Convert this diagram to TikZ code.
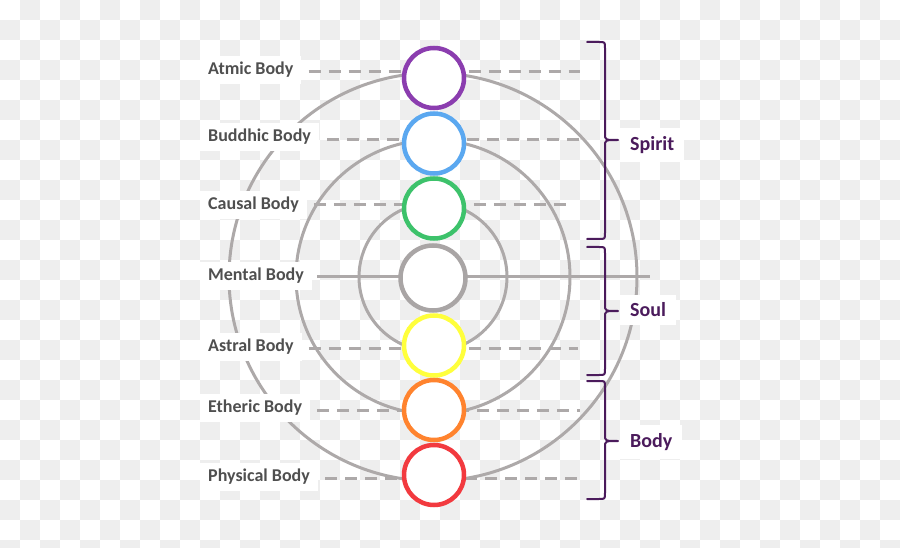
\documentclass[tikz,border=0pt]{standalone}
\usepackage{fontspec}
\setmainfont{Carlito}
\usetikzlibrary{calc}
\definecolor{chk}{HTML}{EEEEEE}
\definecolor{ringgray}{HTML}{ADA9A9}
\definecolor{txtgray}{HTML}{4F4F4F}
\definecolor{deeppurple}{HTML}{4B1B5C}
\definecolor{cpurple}{HTML}{8B3DAF}
\definecolor{cblue}{HTML}{5BA8F0}
\definecolor{cgreen}{HTML}{3DC26B}
\definecolor{cgray}{HTML}{A9A5A5}
\definecolor{cyellow}{HTML}{FFFF3C}
\definecolor{corange}{HTML}{FF832E}
\definecolor{cred}{HTML}{F23A3F}
\newcommand{\drawgroupbrace}[3]{%
  \draw[bracket] (587,#1) -- (599,#1) .. controls (605,#1) .. (605,#1+6)
    -- (605,#2-6) .. controls (605,#2) .. (618,#2)
    .. controls (605,#2) .. (605,#2+6)
    -- (605,#3-6) .. controls (605,#3) .. (599,#3) -- (587,#3);}
\begin{document}
\begin{tikzpicture}[x=1pt,y=-1pt,
  lbl/.style={fill=white, anchor=west, inner xsep=8pt, inner ysep=6pt,
    font=\fontsize{18}{20}\selectfont\bfseries, text=txtgray},
  grp/.style={fill=white, anchor=west, inner xsep=10pt, inner ysep=8pt,
    font=\fontsize{20}{24}\selectfont\bfseries, text=deeppurple},
  body/.style={circle, fill=white, line width=4.5pt, minimum size=60pt, inner sep=0pt},
  orbit/.style={draw=ringgray, line width=3pt},
  dashline/.style={draw=ringgray, line width=3pt, dash pattern=on 12pt off 8pt},
  solidline/.style={draw=ringgray, line width=3pt},
  bracket/.style={draw=deeppurple, line width=2pt, line join=round, line cap=round}
]
\useasboundingbox (0,0) rectangle (900,548);
% transparency checkerboard
\begin{scope}
\clip (0,0) rectangle (900,548);
\fill[white] (0,0) rectangle (900,548);
\foreach \j in {0,...,27} {
  \foreach \i in {0,...,44} {
    \pgfmathtruncatemacro\chkp{mod(\i+\j,2)}
    \ifnum\chkp=1 \fill[chk] (\i*20,\j*20) rectangle ++(20,20); \fi
  }
}
\end{scope}

% concentric orbits
\coordinate (ctr) at (433,277);
\draw[orbit] (ctr) circle[radius=74];
\draw[orbit] (ctr) circle[radius=137];
\draw[orbit] (ctr) circle[radius=204];

% left labels (over the orbits)
\node[lbl] (atmic) at (200,70) {Atmic Body};
\node[lbl] (buddhic) at (200,137) {Buddhic Body};
\node[lbl] (causal) at (200,205) {Causal Body};
\node[lbl] (mental) at (200,276) {Mental Body};
\node[lbl] (astral) at (200,347) {Astral Body};
\node[lbl] (etheric) at (200,408) {Etheric Body};
\node[lbl] (physical) at (200,477) {Physical Body};

% right ends of the guide lines
\coordinate (e1) at (580,72);
\coordinate (e2) at (580,140);
\coordinate (e3) at (572,205);
\coordinate (e4) at (650,277);
\coordinate (e5) at (578,348);
\coordinate (e6) at (580,410);
\coordinate (e7) at (580,478);

\draw[dashline] ($(atmic.east |- e1)+(7,0)$) -- (e1);
\draw[dashline] ($(buddhic.east |- e2)+(8,0)$) -- (e2);
\draw[dashline] ($(causal.east |- e3)+(7,0)$) -- (e3);
\draw[solidline] ($(mental.east |- e4)+(5,0)$) -- (e4);
\draw[dashline] ($(astral.east |- e5)+(7,0)$) -- (e5);
\draw[dashline] ($(etheric.east |- e6)+(7,0)$) -- (e6);
\draw[dashline] ($(physical.east |- e7)+(7,0)$) -- (e7);

% the seven bodies
\node[body, draw=cpurple] (b1) at (434,78) {};
\node[body, draw=cblue] (b2) at (434,143.5) {};
\node[body, draw=cgreen] (b3) at (434,208.5) {};
\node[body, draw=cgray, minimum size=65pt] (b4) at (433,278) {};
\node[body, draw=cyellow] (b5) at (434,345.5) {};
\node[body, draw=corange] (b6) at (434,410) {};
\node[body, draw=cred] (b7) at (434,475) {};

% group labels
\node[grp] (spirit) at (620,145) {Spirit};
\node[grp] (soul) at (620,310) {Soul};
\node[grp] (bodyg) at (620,442) {Body};

% braces
\drawgroupbrace{42}{140}{239}
\drawgroupbrace{247}{311}{375}
\drawgroupbrace{381}{441}{499}
\end{tikzpicture}
\end{document}
